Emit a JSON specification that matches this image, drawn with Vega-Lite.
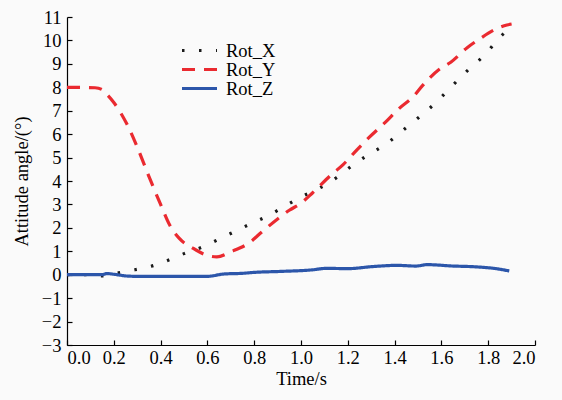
{
  "$schema": "https://vega.github.io/schema/vega-lite/v6.json",
  "width": 468,
  "height": 328,
  "autosize": "none",
  "padding": {"left": 67, "top": 17, "right": 27, "bottom": 55},
  "background": "#fafafa",
  "config": {
    "view": {"stroke": null},
    "font": "Liberation Serif",
    "text": {"font": "Liberation Serif"},
    "legend": {"labelFont": "Liberation Serif"},
    "axis": {
      "grid": false,
      "domainColor": "#000000",
      "tickColor": "#000000",
      "labelColor": "#000000",
      "titleColor": "#000000",
      "labelFont": "Liberation Serif",
      "titleFont": "Liberation Serif",
      "labelFontSize": 18.5,
      "titleFontSize": 18.5,
      "titleFontWeight": "normal",
      "tickSize": -5,
      "domainWidth": 1.2,
      "tickWidth": 1.2
    }
  },
  "data": {
    "values": [
      {"t": 0.0, "v": 0.0, "s": "Rot_X"},
      {"t": 0.1, "v": 0.0, "s": "Rot_X"},
      {"t": 0.15, "v": -0.05, "s": "Rot_X"},
      {"t": 0.22, "v": 0.08, "s": "Rot_X"},
      {"t": 0.29, "v": 0.21, "s": "Rot_X"},
      {"t": 0.36, "v": 0.36, "s": "Rot_X"},
      {"t": 0.43, "v": 0.61, "s": "Rot_X"},
      {"t": 0.5, "v": 0.9, "s": "Rot_X"},
      {"t": 0.576, "v": 1.17, "s": "Rot_X"},
      {"t": 0.646, "v": 1.5, "s": "Rot_X"},
      {"t": 0.718, "v": 1.85, "s": "Rot_X"},
      {"t": 0.79, "v": 2.2, "s": "Rot_X"},
      {"t": 0.86, "v": 2.52, "s": "Rot_X"},
      {"t": 0.93, "v": 2.92, "s": "Rot_X"},
      {"t": 1.0, "v": 3.32, "s": "Rot_X"},
      {"t": 1.08, "v": 3.7, "s": "Rot_X"},
      {"t": 1.15, "v": 4.13, "s": "Rot_X"},
      {"t": 1.22, "v": 4.67, "s": "Rot_X"},
      {"t": 1.29, "v": 5.13, "s": "Rot_X"},
      {"t": 1.37, "v": 5.63, "s": "Rot_X"},
      {"t": 1.44, "v": 6.2, "s": "Rot_X"},
      {"t": 1.51, "v": 6.77, "s": "Rot_X"},
      {"t": 1.58, "v": 7.38, "s": "Rot_X"},
      {"t": 1.64, "v": 8.0, "s": "Rot_X"},
      {"t": 1.71, "v": 8.7, "s": "Rot_X"},
      {"t": 1.79, "v": 9.43, "s": "Rot_X"},
      {"t": 1.85, "v": 10.14, "s": "Rot_X"},
      {"t": 1.89, "v": 10.5, "s": "Rot_X"},
      {"t": 0.0, "v": 8.0, "s": "Rot_Y"},
      {"t": 0.12, "v": 7.98, "s": "Rot_Y"},
      {"t": 0.15, "v": 7.9, "s": "Rot_Y"},
      {"t": 0.17, "v": 7.7, "s": "Rot_Y"},
      {"t": 0.2, "v": 7.35, "s": "Rot_Y"},
      {"t": 0.23, "v": 6.9, "s": "Rot_Y"},
      {"t": 0.26, "v": 6.35, "s": "Rot_Y"},
      {"t": 0.3, "v": 5.45, "s": "Rot_Y"},
      {"t": 0.35, "v": 4.2, "s": "Rot_Y"},
      {"t": 0.4, "v": 3.0, "s": "Rot_Y"},
      {"t": 0.44, "v": 2.1, "s": "Rot_Y"},
      {"t": 0.48, "v": 1.55, "s": "Rot_Y"},
      {"t": 0.54, "v": 1.12, "s": "Rot_Y"},
      {"t": 0.6, "v": 0.82, "s": "Rot_Y"},
      {"t": 0.64, "v": 0.76, "s": "Rot_Y"},
      {"t": 0.7, "v": 0.98, "s": "Rot_Y"},
      {"t": 0.78, "v": 1.37, "s": "Rot_Y"},
      {"t": 0.83, "v": 1.8, "s": "Rot_Y"},
      {"t": 0.9, "v": 2.38, "s": "Rot_Y"},
      {"t": 0.95, "v": 2.75, "s": "Rot_Y"},
      {"t": 1.0, "v": 3.05, "s": "Rot_Y"},
      {"t": 1.05, "v": 3.5, "s": "Rot_Y"},
      {"t": 1.13, "v": 4.27, "s": "Rot_Y"},
      {"t": 1.18, "v": 4.7, "s": "Rot_Y"},
      {"t": 1.24, "v": 5.34, "s": "Rot_Y"},
      {"t": 1.29, "v": 5.85, "s": "Rot_Y"},
      {"t": 1.36, "v": 6.5, "s": "Rot_Y"},
      {"t": 1.42, "v": 7.1, "s": "Rot_Y"},
      {"t": 1.48, "v": 7.6, "s": "Rot_Y"},
      {"t": 1.52, "v": 8.08, "s": "Rot_Y"},
      {"t": 1.59, "v": 8.76, "s": "Rot_Y"},
      {"t": 1.64, "v": 9.07, "s": "Rot_Y"},
      {"t": 1.71, "v": 9.69, "s": "Rot_Y"},
      {"t": 1.76, "v": 10.04, "s": "Rot_Y"},
      {"t": 1.83, "v": 10.47, "s": "Rot_Y"},
      {"t": 1.88, "v": 10.66, "s": "Rot_Y"},
      {"t": 1.9, "v": 10.7, "s": "Rot_Y"},
      {"t": 0.0, "v": 0.0, "s": "Rot_Z"},
      {"t": 0.15, "v": 0.0, "s": "Rot_Z"},
      {"t": 0.17, "v": 0.05, "s": "Rot_Z"},
      {"t": 0.2, "v": 0.02, "s": "Rot_Z"},
      {"t": 0.25, "v": -0.05, "s": "Rot_Z"},
      {"t": 0.3, "v": -0.07, "s": "Rot_Z"},
      {"t": 0.6, "v": -0.07, "s": "Rot_Z"},
      {"t": 0.67, "v": 0.03, "s": "Rot_Z"},
      {"t": 0.75, "v": 0.06, "s": "Rot_Z"},
      {"t": 0.8, "v": 0.1, "s": "Rot_Z"},
      {"t": 0.91, "v": 0.14, "s": "Rot_Z"},
      {"t": 1.04, "v": 0.2, "s": "Rot_Z"},
      {"t": 1.11, "v": 0.27, "s": "Rot_Z"},
      {"t": 1.2, "v": 0.26, "s": "Rot_Z"},
      {"t": 1.31, "v": 0.35, "s": "Rot_Z"},
      {"t": 1.41, "v": 0.4, "s": "Rot_Z"},
      {"t": 1.49, "v": 0.37, "s": "Rot_Z"},
      {"t": 1.54, "v": 0.43, "s": "Rot_Z"},
      {"t": 1.65, "v": 0.37, "s": "Rot_Z"},
      {"t": 1.74, "v": 0.34, "s": "Rot_Z"},
      {"t": 1.84, "v": 0.25, "s": "Rot_Z"},
      {"t": 1.89, "v": 0.16, "s": "Rot_Z"}
    ]
  },
  "mark": {"type": "line", "strokeWidth": 3.2, "interpolate": "monotone"},
  "encoding": {
    "x": {
      "field": "t", "type": "quantitative",
      "scale": {"domain": [0, 2], "nice": false},
      "axis": {"values": [0, 0.2, 0.4, 0.6, 0.8, 1.0, 1.2, 1.4, 1.6, 1.8, 2.0], "format": ".1f", "title": "Time/s", "labelFont": "Liberation Serif", "titleFont": "Liberation Serif", "labelPadding": 8, "titlePadding": 3}
    },
    "y": {
      "field": "v", "type": "quantitative",
      "scale": {"domain": [-3, 11], "nice": false},
      "axis": {"values": [-3, -2, -1, 0, 1, 2, 3, 4, 5, 6, 7, 8, 9, 10, 11], "format": "d", "title": "Attitude angle/(°)", "labelFont": "Liberation Serif", "titleFont": "Liberation Serif", "labelPadding": 11, "titlePadding": 10}
    },
    "color": {
      "field": "s", "type": "nominal",
      "scale": {"domain": ["Rot_X", "Rot_Y", "Rot_Z"], "range": ["#1a1a1a", "#ea2a30", "#2c56aa"]},
      "legend": {
        "title": null, "orient": "none", "legendX": 113, "legendY": 24,
        "symbolType": "stroke", "symbolSize": 1225, "symbolStrokeWidth": 3.2,
        "labelFont": "Liberation Serif", "labelFontSize": 18.5, "labelColor": "#000000",
        "labelOffset": 7, "clipHeight": 19, "rowPadding": 0, "padding": 0
      }
    },
    "strokeDash": {
      "field": "s", "type": "nominal",
      "scale": {"domain": ["Rot_X", "Rot_Y", "Rot_Z"], "range": [[2.5, 14.5], [13, 9], [1, 0]]},
      "legend": null
    }
  }
}
